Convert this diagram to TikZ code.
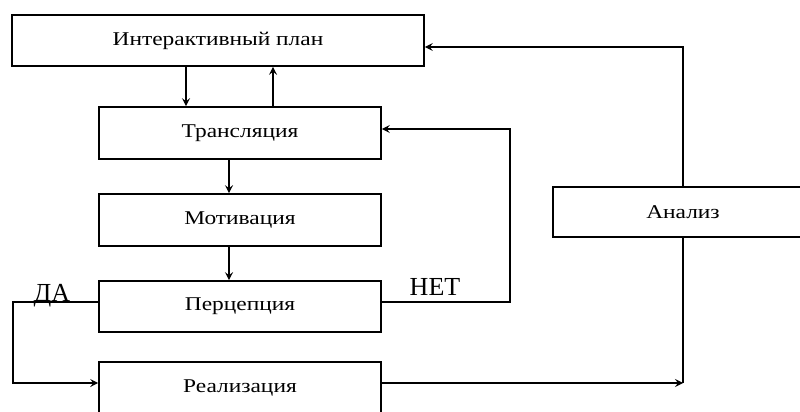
\documentclass[tikz,border=0pt]{standalone}
\usepackage{fontspec}
\setmainfont{Liberation Serif}
\newfontfamily\boxfont[FakeStretch=1.2]{Liberation Serif}
\usetikzlibrary{arrows.meta,calc}

\tikzset{
  stagebox/.style={draw, line width=1.6pt, inner sep=0pt, font=\boxfont\fontsize{19.5}{22}\selectfont},
  link/.style={line width=1.6pt},
  arr/.style={link, -{Stealth[length=8pt,width=8pt,inset=3pt]}},
  answer/.style={font=\fontsize{26}{29}\selectfont, inner sep=0pt}
}

\begin{document}
\begin{tikzpicture}[x=1pt,y=-1pt]
  \fill[white] (0,0) rectangle (800,412);
  \useasboundingbox (0,0) rectangle (800,412);
  \clip (0,0) rectangle (800,412);

  % stages
  \node[stagebox, minimum width=412pt, minimum height=51pt] (plan) at (218,40.5) {Интерактивный план};
  \node[stagebox, minimum width=282pt, minimum height=52pt] (trans) at (240,133) {Трансляция};
  \node[stagebox, minimum width=282pt, minimum height=52pt] (motiv) at (240,220) {Мотивация};
  \node[stagebox, minimum width=282pt, minimum height=51pt] (perc) at (240,306.5) {Перцепция};
  \node[stagebox, minimum width=282pt, minimum height=51pt] (real) at (240,387.5) {Реализация};
  \node[stagebox, minimum width=260pt, minimum height=50pt] (anal) at (683,212) {Анализ};

  % branch labels
  \node[answer, anchor=base] (yes) at (52,301) {ДА};
  \node[answer, anchor=base] (no) at (435,295) {НЕТ};

  % bends of the feedback lines
  \coordinate (yesTop) at (13,302);
  \coordinate (yesBot) at (13,383);
  \coordinate (noBot) at (510,302);
  \coordinate (noTop) at (510,129);
  \coordinate (joinLow) at (683,383);
  \coordinate (joinHigh) at (683,47);

  % main chain
  \draw[arr] (186,0 |- plan.south) -- (186,0 |- trans.north);
  \draw[arr] (273,0 |- trans.north) -- (273,0 |- plan.south);
  \draw[arr] (229,0 |- trans.south) -- (229,0 |- motiv.north);
  \draw[arr] (229,0 |- motiv.south) -- (229,0 |- perc.north);

  % yes branch
  \draw[arr] (yesTop -| perc.west) -- (yesTop) -- (yesBot) -- (yesBot -| real.west);
  % no branch
  \draw[arr] (noBot -| perc.east) -- (noBot) -- (noTop) -- (noTop -| trans.east);

  % analysis loop
  \draw[arr] (joinLow -| real.east) -- (joinLow);
  \draw[link] (anal.south) -- (joinLow);
  \draw[arr] (anal.north) -- (joinHigh) -- (joinHigh -| plan.east);
\end{tikzpicture}
\end{document}
